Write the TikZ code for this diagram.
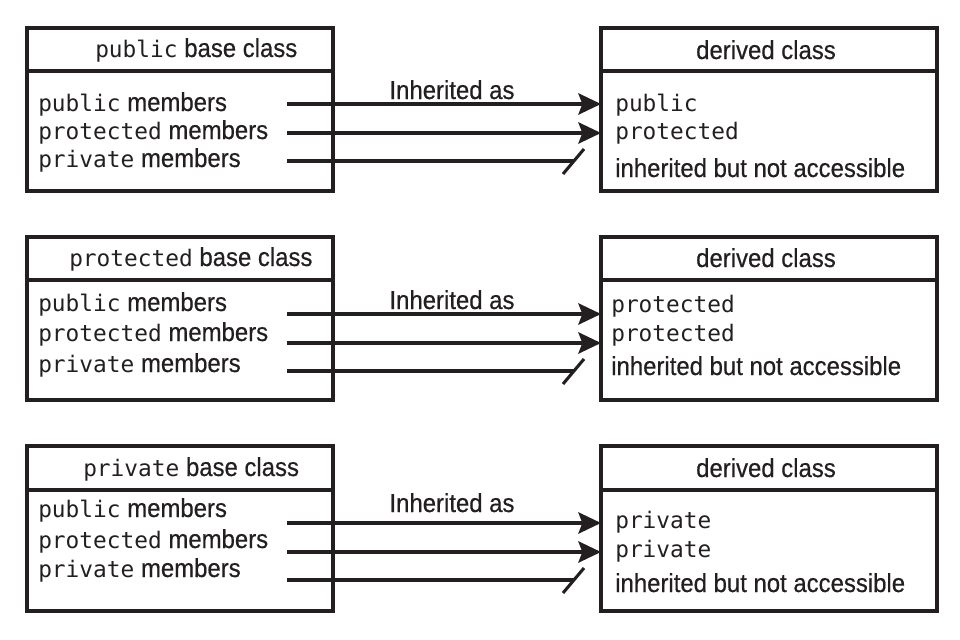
\documentclass[tikz,border=0pt]{standalone}
\usepackage{fontspec}
\setmainfont{Liberation Sans}[FakeStretch=0.92, FakeBold=0.5]
\newfontfamily\codefont{DejaVu Sans Mono}
\usetikzlibrary{arrows.meta}
\definecolor{ink}{HTML}{231F20}
\newcommand\cd[1]{{\codefont\fontsize{17.1pt}{20pt}\selectfont #1}}
\begin{document}
\begin{tikzpicture}[x=0.75pt,y=-0.75pt,
  txt/.style={inner sep=0pt, text=ink, font=\fontsize{19.5pt}{23pt}\selectfont},
  box/.style={draw=ink, line width=2.3pt, outer sep=0pt, inner sep=0pt},
  lbox/.style={box, minimum width=229.5pt},
  rbox/.style={box, minimum width=252pt},
  divider/.style={draw=ink, line width=2.3pt},
  arr/.style={draw=ink, line width=2.3pt, -{Stealth[length=17pt,width=16pt,inset=3pt]}},
  ln/.style={draw=ink, line width=2.3pt},
  slash/.style={draw=ink, line width=2.3pt}]
\useasboundingbox (0,0) rectangle (960,639);

% ---------- Row 1 ----------
\node[lbox, minimum height=122.25pt] (L1) at (180,109.5) {};
\node[rbox, minimum height=122.25pt] (R1) at (769,109.5) {};
\draw[divider] (L1.west |- 0,71) -- (L1.east |- 0,71);
\draw[divider] (R1.west |- 0,71) -- (R1.east |- 0,71);
\node[txt, anchor=base west] (h1) at (95,57) {\cd{public} base class};
\node[txt, anchor=base] (d1) at (766,59) {derived class};
\node[txt, anchor=base west] (m11) at (38,111) {\cd{public} members};
\node[txt, anchor=base west] (m12) at (38,139) {\cd{protected} members};
\node[txt, anchor=base west] (m13) at (38,167) {\cd{private} members};
\node[txt, anchor=base west] (n11) at (615,111) {\cd{public}};
\node[txt, anchor=base west] (n12) at (615,139) {\cd{protected}};
\node[txt, anchor=base west] (n13) at (615,177) {inherited but not accessible};
\node[txt, anchor=base] (i1) at (452,99) {Inherited as};
\coordinate (a11) at (287,104);
\coordinate (a12) at (287,133);
\coordinate (a13) at (287,161);
\coordinate (e13) at (574,161);
\coordinate (k13a) at (563,174);
\coordinate (k13b) at (584,149);
\draw[arr] (a11) -- (a11 -| R1.west);
\draw[arr] (a12) -- (a12 -| R1.west);
\draw[ln] (a13) -- (e13);
\draw[slash] (k13a) -- (k13b);

% ---------- Row 2 ----------
\node[lbox, minimum height=122.25pt] (L2) at (180,318.5) {};
\node[rbox, minimum height=122.25pt] (R2) at (769,318.5) {};
\draw[divider] (L2.west |- 0,280) -- (L2.east |- 0,280);
\draw[divider] (R2.west |- 0,280) -- (R2.east |- 0,280);
\node[txt, anchor=base west] (h2) at (69,266) {\cd{protected} base class};
\node[txt, anchor=base] (d2) at (766,267) {derived class};
\node[txt, anchor=base west] (m21) at (38,311) {\cd{public} members};
\node[txt, anchor=base west] (m22) at (38,341) {\cd{protected} members};
\node[txt, anchor=base west] (m23) at (38,372) {\cd{private} members};
\node[txt, anchor=base west] (n21) at (611,312) {\cd{protected}};
\node[txt, anchor=base west] (n22) at (611,341) {\cd{protected}};
\node[txt, anchor=base west] (n23) at (611,375) {inherited but not accessible};
\node[txt, anchor=base] (i2) at (452,309) {Inherited as};
\coordinate (a21) at (287,314);
\coordinate (a22) at (287,343);
\coordinate (a23) at (287,371);
\coordinate (e23) at (574,371);
\coordinate (k23a) at (563,384);
\coordinate (k23b) at (584,359);
\draw[arr] (a21) -- (a21 -| R2.west);
\draw[arr] (a22) -- (a22 -| R2.west);
\draw[ln] (a23) -- (e23);
\draw[slash] (k23a) -- (k23b);

% ---------- Row 3 ----------
\node[lbox, minimum height=123.75pt] (L3) at (180,528.5) {};
\node[rbox, minimum height=123.75pt] (R3) at (769,528.5) {};
\draw[divider] (L3.west |- 0,490) -- (L3.east |- 0,490);
\draw[divider] (R3.west |- 0,490) -- (R3.east |- 0,490);
\node[txt, anchor=base west] (h3) at (83,476) {\cd{private} base class};
\node[txt, anchor=base] (d3) at (766,477) {derived class};
\node[txt, anchor=base west] (m31) at (38,517) {\cd{public} members};
\node[txt, anchor=base west] (m32) at (38,548) {\cd{protected} members};
\node[txt, anchor=base west] (m33) at (38,577) {\cd{private} members};
\node[txt, anchor=base west] (n31) at (615,528) {\cd{private}};
\node[txt, anchor=base west] (n32) at (615,557) {\cd{private}};
\node[txt, anchor=base west] (n33) at (615,592) {inherited but not accessible};
\node[txt, anchor=base] (i3) at (452,512) {Inherited as};
\coordinate (a31) at (287,523);
\coordinate (a32) at (287,552);
\coordinate (a33) at (287,580);
\coordinate (e33) at (574,580);
\coordinate (k33a) at (563,593);
\coordinate (k33b) at (584,568);
\draw[arr] (a31) -- (a31 -| R3.west);
\draw[arr] (a32) -- (a32 -| R3.west);
\draw[ln] (a33) -- (e33);
\draw[slash] (k33a) -- (k33b);
\end{tikzpicture}
\end{document}
